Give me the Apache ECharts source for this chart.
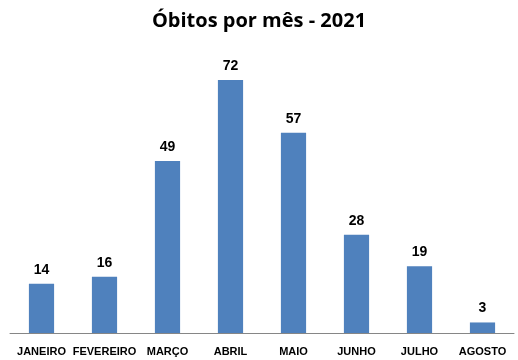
<!DOCTYPE html>
<html><head><meta charset="utf-8">
<script src="https://cdn.jsdelivr.net/npm/echarts@6/dist/echarts.min.js"></script>
<style>html,body{margin:0;padding:0;background:#fff}#c{width:518px;height:360px}</style>
</head><body><div id="c"></div>
<script>
const categories = ['JANEIRO','FEVEREIRO','MARÇO','ABRIL','MAIO','JUNHO','JULHO','AGOSTO'];
const values = [14,16,49,72,57,28,19,3];
const chart = echarts.init(document.getElementById('c'), null, {renderer:'canvas'});
chart.setOption({
  animation:false,
  title:{text:'Óbitos por mês - 2021',left:'center',top:6,textStyle:{fontFamily:'Open Sans',fontWeight:'bold',fontSize:20,color:'#000'}},
  grid:{left:10,right:4,top:52,bottom:27,containLabel:false},
  xAxis:{type:'category',data:categories,axisTick:{show:false},
    axisLine:{lineStyle:{color:'#868686',width:1}},
    axisLabel:{interval:0,margin:13,fontFamily:'Liberation Sans',fontWeight:'bold',fontSize:11,color:'#000'}},
  yAxis:{type:'value',min:0,max:80,show:false,splitLine:{show:false}},
  series:[{type:'bar',data:values,barWidth:'40%',itemStyle:{color:'#4F81BD'},
    label:{show:true,position:'top',distance:7,fontFamily:'Liberation Sans',fontWeight:'bold',fontSize:14,color:'#000'}}]
});
</script></body></html>
